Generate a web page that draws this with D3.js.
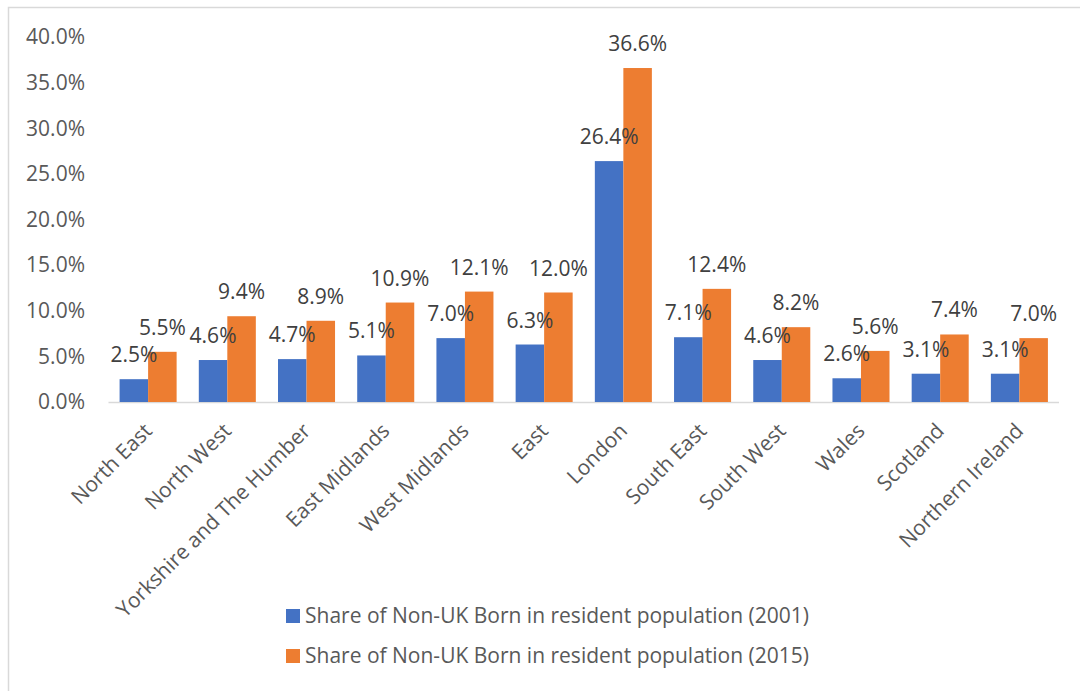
<!DOCTYPE html>
<html><head><meta charset="utf-8">
<script src="https://cdn.jsdelivr.net/npm/d3@7"></script>
<style>body{margin:0;background:#fff}svg{display:block}text{font-family:"Open Sans",sans-serif}</style>
</head><body><svg id="c" width="1080" height="691"></svg>
<script>
const categories = ["North East","North West","Yorkshire and The Humber","East Midlands","West Midlands","East","London","South East","South West","Wales","Scotland","Northern Ireland"];
const values2001 = [2.5,4.6,4.7,5.1,7.0,6.3,26.4,7.1,4.6,2.6,3.1,3.1];
const values2015 = [5.5,9.4,8.9,10.9,12.1,12.0,36.6,12.4,8.2,5.6,7.4,7.0];
const seriesNames = ["Share of Non-UK Born in resident population (2001)","Share of Non-UK Born in resident population (2015)"];
const colors = ["#4472C4","#ED7D31"];
const yTicks = [0,5,10,15,20,25,30,35,40];

const FS = 21;
const svg = d3.select("#c");
svg.append("rect").attr("x",8.5).attr("y",7.5).attr("width",1100).attr("height",700)
  .attr("fill","none").attr("stroke","#d9d9d9").attr("stroke-width",1.5);

const x0 = d3.scaleBand().domain(categories).range([108.5,1059]).paddingInner(0.28).paddingOuter(0.14);
const x1 = d3.scaleBand().domain([0,1]).range([0,x0.bandwidth()]);
const y = d3.scaleLinear().domain([0,40]).range([402,37]);

// y axis labels
svg.append("g").selectAll("text").data(yTicks).join("text")
  .attr("x",85).attr("y",d=>y(d)).attr("dy","0.35em").attr("text-anchor","end")
  .attr("font-size",FS).attr("fill","#595959").text(d=>d.toFixed(1)+"%");

// axis line
svg.append("line").attr("x1",108.5).attr("x2",1059).attr("y1",y(0)+0.5).attr("y2",y(0)+0.5)
  .attr("stroke","#d9d9d9").attr("stroke-width",1.5);

const series = [values2001, values2015];
const barsG = svg.append("g");
const labG = svg.append("g");
series.forEach((vals,si)=>{
  barsG.append("g").selectAll("rect").data(vals).join("rect")
    .attr("x",(d,i)=>x0(categories[i])+x1(si))
    .attr("y",d=>y(d)).attr("width",x1.bandwidth()).attr("height",d=>y(0)-y(d))
    .attr("fill",colors[si]);
  labG.append("g").selectAll("text").data(vals).join("text")
    .attr("x",(d,i)=>x0(categories[i])+x1(si)+x1.bandwidth()/2)
    .attr("y",d=>y(d)-17).attr("text-anchor","middle")
    .attr("font-size",FS).attr("fill","#404040").text(d=>d.toFixed(1)+"%");
});

// category labels
svg.append("g").selectAll("text").data(categories).join("text")
  .attr("transform",d=>`translate(${x0(d)+x0.bandwidth()/2},${y(0)+25}) rotate(-45)`)
  .attr("text-anchor","end").attr("dy","0.35em")
  .attr("font-size",FS).attr("fill","#595959").text(d=>d);

// legend
const leg = svg.append("g");
const legY = [616,656];
seriesNames.forEach((n,i)=>{
  leg.append("rect").attr("x",286).attr("y",legY[i]-7).attr("width",14).attr("height",14).attr("fill",colors[i]);
  leg.append("text").attr("x",305).attr("y",legY[i]).attr("dy","0.35em")
    .attr("font-size",FS).attr("fill","#595959").text(n);
});
</script></body></html>
